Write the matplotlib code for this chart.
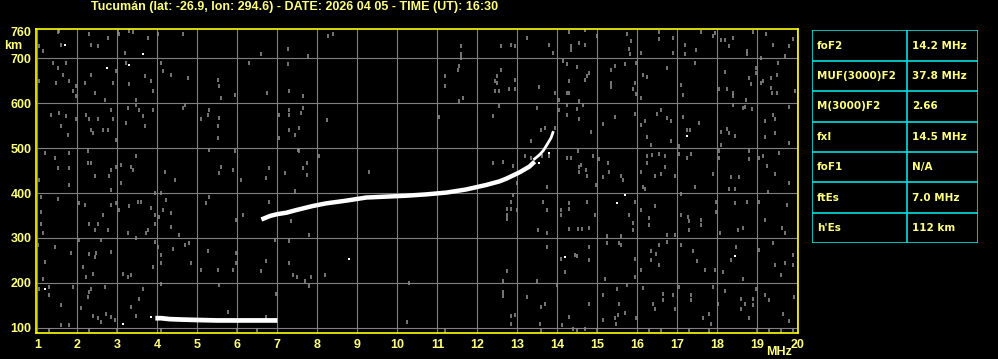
import matplotlib
matplotlib.use('Agg')
import matplotlib.pyplot as plt

plt.rcParams['font.family'] = ['Liberation Sans', 'DejaVu Sans']

# ---------------- data ----------------
title = "Tucumán (lat: -26.9, lon: 294.6) - DATE: 2026 04 05 - TIME (UT): 16:30"

freq_ticks = list(range(1, 21))
height_grid = [100, 200, 300, 400, 500, 600, 700]
height_ticks = [100, 200, 300, 400, 500, 600, 700, 760]

# F-layer trace (MHz, km)
F_mhz = [6.60, 6.82, 7.00, 7.22, 7.47, 7.88, 8.22, 8.72, 9.22, 9.72, 10.22, 10.72,
         11.22, 11.72, 12.22, 12.55, 12.72, 13.05, 13.30, 13.43]
F_km = [341, 349, 353, 356, 362, 371, 377, 383, 390, 392, 394, 397,
        401, 408, 418, 426, 432, 446, 459, 470]

# fragmented upper end of the F trace
F_top_mhz = [13.40, 13.55, 13.65, 13.74, 13.84, 13.90]
F_top_km = [474, 485, 495, 508, 523, 538]

# Es trace
E_mhz = [3.95, 4.10, 4.30, 4.60, 5.00, 5.50, 6.00, 6.50, 7.00]
E_km = [121, 121, 119, 118, 117, 116, 116, 116, 116]

# isolated bright echoes
bright_echoes = [(1.70, 731), (3.64, 709), (2.74, 679), (3.29, 685), (1.18, 187), (3.14, 109),
                 (3.85, 123), (8.79, 253), (15.48, 377), (15.69, 396), (14.20, 258),
                 (18.43, 260), (17.24, 528), (13.53, 467), (13.80, 490)]

# background noise echoes (MHz, km)
noise_1_7 = [
    (1.51, 758), (1.55, 761), (1.60, 731), (2.30, 754), (2.35, 731), (2.51, 728), (2.76, 746), (3.01, 758),
    (3.05, 754), (3.18, 713), (3.30, 761), (3.39, 758), (3.76, 746), (4.01, 754), (4.64, 754), (6.60, 709),
    (1.14, 717), (1.04, 728),
    (1.39, 690), (1.51, 679), (1.64, 664), (1.72, 690), (1.80, 649), (1.89, 627), (1.97, 638), (2.18, 646),
    (2.35, 664), (2.43, 623), (2.68, 608), (2.89, 646), (2.97, 672), (3.22, 690), (3.30, 642), (3.47, 608),
    (3.68, 661), (3.85, 649), (3.89, 627), (4.10, 690), (4.14, 672), (4.35, 664), (4.76, 657), (5.51, 653),
    (5.55, 638), (5.60, 612), (5.95, 618), (6.30, 690), (6.75, 623), (1.05, 649), (1.47, 646), (1.97, 616),
    (1.35, 575), (1.55, 578), (1.72, 571), (1.60, 549), (1.97, 564), (2.22, 575), (2.30, 564), (2.35, 541),
    (2.51, 564), (2.64, 541), (2.76, 541), (2.89, 564), (2.85, 586), (2.97, 519), (3.26, 590), (3.22, 556),
    (3.47, 597), (3.55, 586), (3.68, 549), (3.64, 571), (3.89, 586), (4.64, 590), (4.68, 597), (5.10, 564),
    (5.30, 586), (5.26, 575), (5.55, 567), (5.51, 549), (5.51, 523), (7.05, 575), (7.05, 523), (2.39, 534),
    (1.76, 530),
    (1.18, 489), (1.43, 478), (1.51, 455), (1.80, 489), (1.80, 455), (2.26, 493), (2.26, 467), (2.35, 467),
    (2.43, 437), (2.80, 437), (2.85, 452), (2.97, 459), (3.10, 463), (3.10, 422), (3.35, 459), (3.39, 452),
    (3.47, 482), (4.18, 448), (4.43, 429), (5.30, 496), (5.60, 459), (5.55, 444), (5.89, 452), (5.93, 493),
    (6.10, 429), (6.72, 433), (6.80, 455), (7.18, 444), (1.05, 429), (1.80, 418), (2.85, 407),
    (1.10, 392), (1.10, 358), (1.10, 332), (1.14, 311), (1.51, 386), (2.05, 377), (2.18, 373), (2.30, 332),
    (2.43, 317), (2.51, 332), (2.64, 351), (2.76, 317), (2.85, 373), (2.97, 377), (3.05, 362), (3.26, 310),
    (3.30, 370), (3.51, 381), (3.60, 381), (3.76, 317), (3.85, 366), (3.93, 399), (3.93, 351), (3.93, 332),
    (4.05, 347), (4.14, 362), (4.10, 399), (4.22, 385), (4.35, 355), (4.35, 325), (4.55, 306), (5.30, 392),
    (5.22, 377), (5.97, 341), (6.14, 351), (6.80, 381), (3.72, 310),
    (1.01, 284), (1.43, 280), (1.85, 267), (2.05, 295), (2.30, 265), (2.43, 258), (2.47, 267), (2.60, 295),
    (2.85, 269), (3.14, 220), (3.26, 213), (3.35, 217), (3.47, 299), (3.93, 291), (4.01, 280), (4.10, 261),
    (4.10, 243), (3.89, 235), (4.39, 276), (4.68, 284), (4.80, 289), (4.85, 243), (5.10, 229), (5.26, 271),
    (5.51, 229), (5.89, 228), (5.97, 267), (5.97, 243), (6.60, 226), (6.72, 249), (6.93, 296), (1.18, 247),
    (1.14, 209), (2.14, 235), (2.22, 213), (2.39, 220),
    (1.05, 187), (1.30, 191), (1.30, 172), (1.60, 150), (1.60, 105), (1.80, 105), (1.89, 191), (2.10, 144),
    (2.26, 168), (2.30, 179), (2.35, 187), (2.39, 127), (2.51, 122), (2.60, 112), (2.68, 191), (2.72, 131),
    (2.85, 123), (2.93, 116), (3.35, 146), (3.47, 127), (3.55, 164), (3.64, 187), (4.10, 198), (5.54, 194),
    (5.76, 135), (6.97, 176), (6.72, 123),
]

noise_7_13 = [
    (7.26, 720), (7.26, 687), (7.76, 705), (8.26, 750), (8.38, 754), (11.59, 728), (11.59, 709), (11.59, 702),
    (11.55, 683), (11.51, 675), (11.20, 661), (11.19, 638), (11.63, 612), (11.53, 605), (12.59, 728),
    (12.84, 731), (12.94, 728), (13.24, 745), (12.59, 675), (12.48, 662), (12.44, 649), (12.48, 646),
    (12.94, 653), (12.78, 631), (12.94, 631), (12.44, 627), (12.53, 627), (12.53, 595), (7.30, 627),
    (7.65, 617), (7.28, 586), (7.63, 590), (7.59, 578), (7.30, 575), (7.55, 546), (7.30, 541), (7.44, 530),
    (8.23, 562), (11.03, 569), (12.38, 571), (13.34, 515), (7.51, 496), (7.55, 493), (8.03, 483),
    (7.74, 467), (7.63, 455), (7.74, 440), (9.28, 448), (12.38, 467), (12.63, 470), (12.88, 461),
    (13.19, 483), (13.34, 479), (12.88, 396), (12.84, 379), (12.74, 364), (12.84, 364), (12.74, 351),
    (12.74, 342), (12.98, 362), (12.99, 423), (7.45, 405), (7.34, 338), (7.78, 307), (7.28, 294),
    (7.28, 244), (7.38, 217), (7.49, 212), (7.69, 204), (7.84, 213), (8.20, 217), (7.78, 193),
    (10.28, 200), (12.74, 226), (12.63, 204), (12.63, 179), (12.63, 170), (13.24, 168), (12.84, 125),
    (12.94, 129), (12.84, 107), (10.23, 112),
]

noise_13_20 = [
    (13.80, 731), (13.88, 713), (14.28, 758), (14.34, 728), (14.34, 719), (14.53, 735), (14.70, 731),
    (14.70, 763), (14.98, 750), (15.73, 754), (15.84, 739), (15.80, 720), (15.82, 711), (16.09, 713),
    (16.53, 758), (16.53, 743), (16.88, 746), (16.88, 713), (17.19, 731), (17.19, 709), (17.47, 719),
    (17.59, 758), (17.88, 750), (17.94, 756), (18.09, 741), (18.19, 741), (18.30, 728), (18.40, 746),
    (18.73, 717), (18.73, 709), (18.90, 758), (19.22, 754), (19.38, 731), (19.78, 728), (19.88, 744),
    (19.68, 705), (19.09, 702),
    (14.13, 694), (14.24, 687), (14.49, 681), (14.28, 649), (14.24, 622), (14.30, 623), (14.55, 605),
    (14.70, 653), (14.73, 661), (14.78, 668), (13.53, 637), (13.94, 623), (14.03, 608), (14.03, 586),
    (15.34, 675), (15.44, 684), (15.34, 646), (15.34, 637), (15.70, 687), (15.97, 690), (15.94, 646),
    (15.90, 631), (15.97, 620), (16.13, 664), (16.24, 659), (16.73, 679), (16.09, 612), (17.08, 640),
    (17.13, 618), (17.44, 690), (18.03, 631), (18.18, 670), (18.23, 631), (18.38, 623), (18.38, 616),
    (18.80, 657), (18.84, 642), (18.72, 608), (18.97, 679), (18.97, 668), (19.09, 646), (19.13, 649),
    (19.34, 657), (19.34, 634), (19.37, 622), (19.48, 622), (19.48, 664), (19.51, 690), (19.93, 627),
    (18.38, 597),
    (13.49, 590), (13.59, 541), (13.68, 545), (13.93, 545), (14.24, 597), (14.24, 573), (14.48, 587),
    (14.53, 565), (14.63, 597), (14.84, 537), (15.13, 555), (15.44, 569), (15.94, 576), (16.09, 552),
    (16.18, 560), (16.23, 526), (16.34, 508), (16.48, 577), (16.59, 586), (16.73, 567), (16.84, 560),
    (16.84, 515), (17.13, 569), (17.24, 541), (17.32, 541), (17.53, 556), (18.09, 537), (18.23, 543),
    (18.30, 534), (18.44, 528), (18.09, 508), (18.65, 590), (18.87, 587), (18.70, 592), (19.20, 560),
    (19.43, 564), (19.38, 573), (19.45, 534), (19.80, 592), (19.80, 511), (19.18, 524), (17.03, 504),
    (13.62, 483), (13.78, 482), (14.24, 479), (14.34, 479), (14.51, 493), (14.55, 458), (14.59, 463),
    (14.72, 452), (14.53, 446), (14.73, 438), (14.90, 483), (14.97, 418), (15.05, 476), (15.13, 435),
    (15.26, 467), (15.30, 448), (15.59, 438), (15.65, 429), (16.23, 483), (16.24, 468), (16.37, 485),
    (16.55, 487), (16.68, 483), (16.68, 458), (16.44, 439), (16.59, 443), (16.09, 448), (16.15, 414),
    (16.20, 408), (16.93, 439), (17.03, 487), (17.23, 479), (17.34, 487), (17.44, 414), (17.88, 443),
    (18.05, 493), (18.05, 479), (18.33, 435), (18.53, 435), (18.80, 493), (18.80, 476), (19.03, 479),
    (19.13, 483), (19.23, 461), (19.44, 443), (19.80, 423), (19.53, 490), (18.28, 410), (18.44, 408),
    (19.26, 403), (13.74, 414),
    (13.63, 379), (13.74, 362), (14.08, 362), (14.09, 352), (14.28, 364), (14.28, 377), (14.28, 319),
    (14.51, 319), (14.62, 320), (14.73, 379), (14.78, 321), (14.93, 351), (15.78, 351), (15.88, 334),
    (15.90, 317), (15.94, 379), (16.09, 362), (16.28, 344), (16.30, 329), (16.45, 370), (16.73, 306),
    (16.93, 306), (17.09, 397), (17.09, 351), (17.26, 347), (17.30, 338), (17.30, 317), (17.59, 341),
    (17.59, 329), (17.97, 381), (17.97, 358), (18.07, 310), (18.44, 377), (18.51, 317), (18.73, 379),
    (18.65, 321), (19.03, 379), (19.20, 340), (19.61, 323), (19.73, 374), (19.68, 310), (13.51, 317),
    (13.74, 312), (15.23, 305), (15.59, 305),
    (13.74, 280), (14.09, 254), (14.45, 261), (14.49, 259), (14.78, 280), (14.78, 250), (14.20, 224),
    (15.23, 288), (15.55, 288), (15.59, 284), (15.94, 252), (15.94, 213), (16.09, 229), (16.34, 270),
    (16.34, 250), (16.47, 265), (16.55, 284), (16.73, 291), (16.55, 239), (17.09, 284), (17.40, 271),
    (17.49, 249), (17.69, 229), (17.94, 228), (18.15, 224), (18.34, 250), (18.47, 280), (18.65, 209),
    (19.03, 273), (19.38, 289), (19.44, 239), (19.68, 244), (19.59, 217), (19.88, 239), (19.88, 261),
    (15.20, 209), (13.49, 204),
    (13.99, 194), (13.59, 147), (13.70, 152), (14.28, 123), (14.80, 152), (15.13, 172), (15.48, 185),
    (15.53, 152), (15.51, 129), (15.44, 122), (15.73, 194), (15.70, 132), (15.97, 122), (16.13, 189),
    (16.38, 153), (16.43, 142), (16.63, 174), (16.63, 161), (16.90, 172), (16.95, 142), (17.03, 191),
    (17.34, 172), (17.34, 162), (17.63, 122), (17.78, 131), (17.84, 109), (17.88, 191), (18.01, 152),
    (18.19, 181), (18.59, 164), (18.59, 142), (18.70, 152), (18.80, 122), (18.88, 164), (18.88, 150),
    (18.97, 185), (19.18, 172), (19.28, 161), (19.63, 131), (19.91, 168), (19.80, 115), (15.13, 116),
    (15.47, 109), (13.57, 109), (14.12, 105), (14.38, 97), (14.68, 97),
]

noise_bottom = [(1.3, 95), (2.3, 95), (3.0, 95), (4.1, 95), (6.0, 94), (6.5, 94), (11.2, 93), (13.6, 93),
                (14.5, 94), (15.0, 94), (16.3, 94), (16.6, 94), (17.3, 94), (17.8, 92), (19.0, 94),
                (19.3, 94), (19.6, 93), (19.9, 94)]

table_labels = ["foF2", "MUF(3000)F2", "M(3000)F2", "fxI", "foF1", "ftEs", "h'Es"]
table_values = ["14.2 MHz", "37.8 MHz", "2.66", "14.5 MHz", "N/A", "7.0 MHz", "112 km"]

# ---------------- style ----------------
TXT = '#FFFF80'
FRAME = '#FFFF00'
GRID = '#808080'
NOISE = '#8a8a8a'
CYAN = '#00E0E0'

W, H = 998, 359
fig = plt.figure(figsize=(W / 100, H / 100), dpi=100, facecolor='black')
ax = fig.add_axes([35.7 / W, 26 / H, 762.6 / W, 303.7 / H], facecolor='black')
ax.set_xlim(0.96, 20.02)
ax.set_ylim(88, 765)

for f in freq_ticks:
    ax.axvline(f, color=GRID, lw=0.8, zorder=1)
for h in height_grid:
    ax.axhline(h, color=GRID, lw=0.8, zorder=1)

all_noise = noise_1_7 + noise_7_13 + noise_13_20 + noise_bottom
ax.plot([p[0] for p in all_noise], [p[1] for p in all_noise], ls='none', marker='|',
        markersize=2.6, markeredgewidth=1.2, color=NOISE, zorder=2)
ax.plot([p[0] for p in bright_echoes], [p[1] for p in bright_echoes], ls='none', marker='s',
        markersize=2.0, markeredgewidth=0, color='white', zorder=3)

ax.plot(F_mhz, F_km, color='white', lw=3.2, solid_capstyle='butt', zorder=4)
ax.plot(F_top_mhz, F_top_km, color='white', lw=2.0, solid_capstyle='butt', zorder=4)
ax.plot(E_mhz, E_km, color='white', lw=3.4, solid_capstyle='butt', zorder=4)

for s in ax.spines.values():
    s.set_color(FRAME)
    s.set_linewidth(1.2)

ax.set_xticks(freq_ticks)
ax.set_xticklabels([str(f) for f in freq_ticks], fontweight='bold', fontsize=9, color=TXT)
ax.set_yticks(height_ticks)
ax.set_yticklabels([str(h) for h in height_ticks], fontweight='bold', fontsize=9, color=TXT)
ax.tick_params(axis='x', length=0, pad=4)
ax.tick_params(axis='y', length=0, pad=3)

fig.text(295 / W, 1 - 7 / H, title, color=TXT, fontsize=9, fontweight='bold', ha='center', va='center')
fig.text(13 / W, 1 - 46 / H, "km", color=TXT, fontsize=9, fontweight='bold', ha='center', va='center')
fig.text(779 / W, 1 - 352 / H, "MHz", color=TXT, fontsize=9, fontweight='bold', ha='center', va='center')

# parameter table
tax = fig.add_axes([812 / W, 1 - 243.3 / H, (978 - 812) / W, (243.3 - 30.3) / H], facecolor='black')
n = len(table_labels)
tax.set_xlim(0, 1)
tax.set_ylim(n, 0)
tax.axis('off')
for i in range(n + 1):
    tax.axhline(i, color=CYAN, lw=1.2)
for xv in (0, 0.572, 1):
    tax.axvline(xv, color=CYAN, lw=1.2)
for i, (lab, val) in enumerate(zip(table_labels, table_values)):
    tax.text(0.03, i + 0.5, lab, color=TXT, fontsize=7.5, fontweight='bold', va='center', ha='left',
             family='DejaVu Sans')
    tax.text(0.602, i + 0.5, val, color=TXT, fontsize=7.5, fontweight='bold', va='center', ha='left',
             family='DejaVu Sans')

fig.savefig('out.png', dpi=100, facecolor='black')
